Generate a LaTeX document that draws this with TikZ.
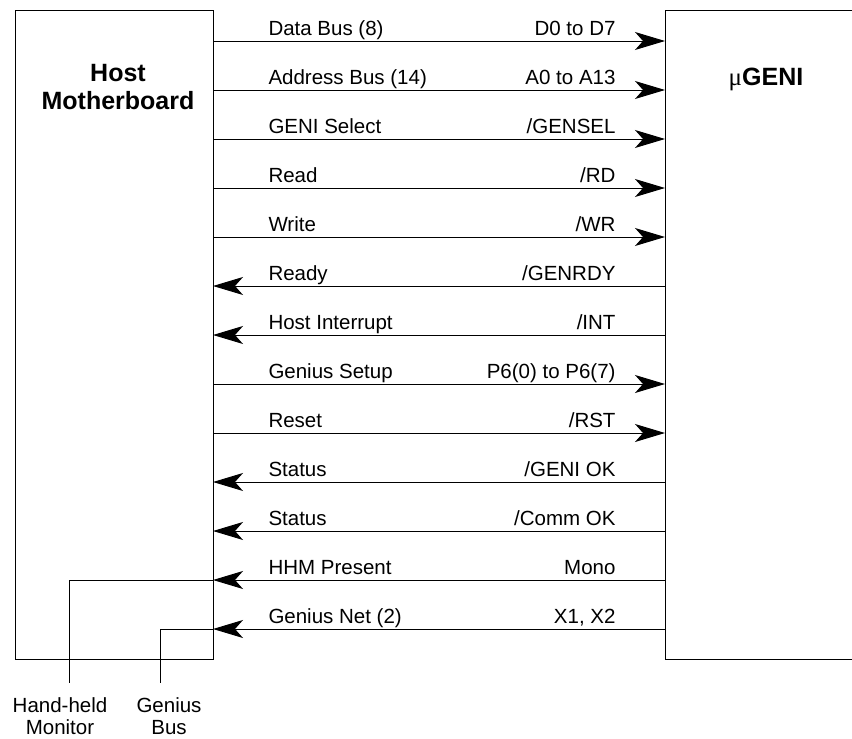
\documentclass[tikz,border=0pt]{standalone}
\usepackage{fontspec}
\setmainfont{Liberation Sans}
\newfontfamily\mufont{Liberation Serif}
\usetikzlibrary{arrows.meta, positioning}

\newcommand{\sigfont}{\fontsize{20.5}{22.5}\selectfont}
\newcommand{\boxfont}{\fontsize{25}{28}\selectfont\bfseries}

\tikzset{
  sig/.style={line width=1pt},
  togeni/.style={sig, -{Stealth[length=30pt, width=18pt, inset=8pt]}},
  tohost/.style={sig, {Stealth[length=30pt, width=18pt, inset=8pt]}-},
  lname/.style={pos=0, anchor=base west, xshift=55pt, yshift=6pt, inner sep=0pt, font=\sigfont},
  rname/.style={pos=1, anchor=base east, xshift=-49pt, yshift=6pt, inner sep=0pt, font=\sigfont},
  board/.style={draw, line width=1pt, anchor=north west, inner sep=0pt}
}

\begin{document}
\begin{tikzpicture}[x=1pt, y=-1pt]
\useasboundingbox (0,0) rectangle (852,739);
\clip (0,0) rectangle (852,739);
%the two boards
\node[board, minimum width=198pt, minimum height=649pt] (host) at (15,10) {};
\node[board, minimum width=300pt, minimum height=649pt] (geni) at (665,10) {};
\node[font=\boxfont, align=center, anchor=north, inner sep=0pt] (hostname) at (118,64) {Host\\Motherboard};
\node[font=\boxfont, anchor=base, inner sep=0pt] (geniname) at (766,85) {{\mufont\mdseries μ}GENI};
%end points of the signal lines on both boards
\foreach \i in {1,...,13}{
  \coordinate (l\i) at (213,{41+49*(\i-1)});
  \coordinate (r\i) at (665,{41+49*(\i-1)});
}
%signals
\draw[togeni] (l1) -- (r1) node[lname] (s1) {Data Bus (8)} node[rname] (p1) {D0 to D7};
\draw[togeni] (l2) -- (r2) node[lname] (s2) {Address Bus (14)} node[rname] (p2) {A0 to A13};
\draw[togeni] (l3) -- (r3) node[lname] (s3) {GENI Select} node[rname] (p3) {/GENSEL};
\draw[togeni] (l4) -- (r4) node[lname] (s4) {Read} node[rname] (p4) {/RD};
\draw[togeni] (l5) -- (r5) node[lname] (s5) {Write} node[rname] (p5) {/WR};
\draw[tohost] (l6) -- (r6) node[lname] (s6) {Ready} node[rname] (p6) {/GENRDY};
\draw[tohost] (l7) -- (r7) node[lname] (s7) {Host Interrupt} node[rname] (p7) {/INT};
\draw[togeni] (l8) -- (r8) node[lname] (s8) {Genius Setup} node[rname] (p8) {P6(0) to P6(7)};
\draw[togeni] (l9) -- (r9) node[lname] (s9) {Reset} node[rname] (p9) {/RST};
\draw[tohost] (l10) -- (r10) node[lname] (s10) {Status} node[rname] (p10) {/GENI OK};
\draw[tohost] (l11) -- (r11) node[lname] (s11) {Status} node[rname] (p11) {/Comm OK};
\draw[tohost] (l12) -- (r12) node[lname] (s12) {HHM Present} node[rname] (p12) {Mono};
\draw[tohost] (l13) -- (r13) node[lname] (s13) {Genius Net (2)} node[rname] (p13) {X1, X2};
%wires out through the bottom of the host board
\coordinate (hhm) at (69,683);
\coordinate (gbus) at (160,683);
\draw[sig] (l12) -| (hhm);
\draw[sig] (l13) -| (gbus);
\node[font=\sigfont, align=center, anchor=north, inner sep=0pt] (hhmname) at (60,697) {Hand-held\\Monitor};
\node[font=\sigfont, align=center, anchor=north, inner sep=0pt] (gbusname) at (169,697) {Genius\\Bus};
\end{tikzpicture}
\end{document}
